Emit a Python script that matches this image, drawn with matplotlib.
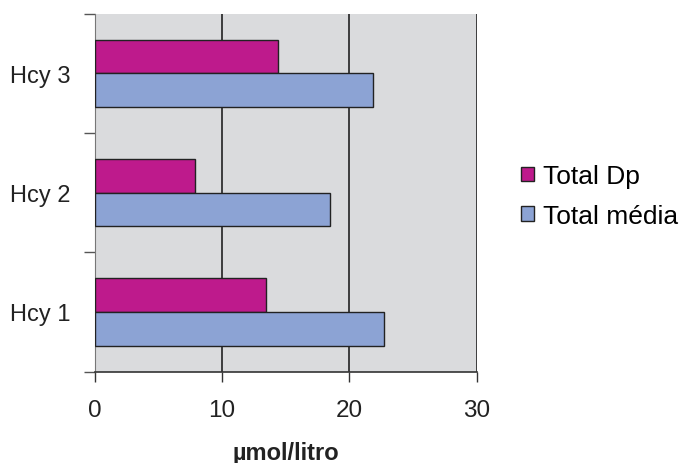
import matplotlib.pyplot as plt
import numpy as np

plt.rcParams['font.family'] = ['Liberation Sans', 'DejaVu Sans']

categories = ['Hcy 1', 'Hcy 2', 'Hcy 3']
total_dp = [13.5, 7.9, 14.4]
total_media = [22.7, 18.5, 21.9]
series_names = ['Total Dp', 'Total média']

fig = plt.figure(figsize=(6.8, 4.64), dpi=100)
ax = fig.add_axes([0.139, 0.197, 0.562, 0.771])
ax.set_facecolor('#dadbdd')

y = np.arange(len(categories))
h = 0.283
ax.barh(y + h / 2, total_dp, height=h, color='#be1a8c', edgecolor='#222222',
        linewidth=1.0, label=series_names[0], zorder=3)
ax.barh(y - h / 2, total_media, height=h, color='#8ca3d4', edgecolor='#222222',
        linewidth=1.0, label=series_names[1], zorder=3)

ax.set_xlim(0, 30)
ax.set_ylim(-0.5, 2.5)
ax.set_xticks([0, 10, 20, 30])
ax.tick_params(axis='x', labelsize=17.5, length=7, width=1, color='#333333',
               pad=13, colors='#222222')
for xv in [10, 20, 30]:
    ax.axvline(xv, color='#222222', linewidth=1.2, zorder=1)

# category labels sit between the boundary ticks
ax.set_yticks([-0.5, 0.5, 1.5, 2.5])
ax.set_yticklabels([])
ax.set_yticks(y, minor=True)
ax.set_yticklabels(categories, minor=True)
ax.tick_params(axis='y', which='major', length=8, width=1, color='#555555')
ax.tick_params(axis='y', which='minor', length=0, labelsize=17, pad=17,
               labelcolor='#222222')

for s in ['top', 'right']:
    ax.spines[s].set_visible(False)
ax.spines['left'].set_color('#777777')
ax.spines['bottom'].set_color('#333333')
ax.spines['bottom'].set_linewidth(1.2)

ax.set_xlabel('µmol/litro', fontsize=17, fontweight='bold', labelpad=14,
              color='#222222')

ax.legend(loc='center left', bbox_to_anchor=(1.082, 0.49), frameon=False,
          fontsize=19, handlelength=0.49, handleheight=0.49, handletextpad=0.34,
          labelspacing=0.6, borderpad=0)

fig.savefig('out.png', dpi=100)
